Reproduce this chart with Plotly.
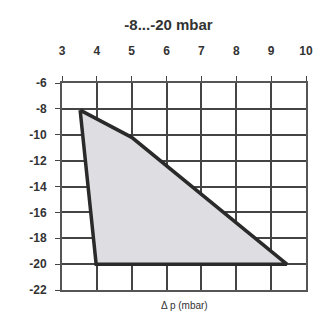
import plotly.graph_objects as go

# Data
poly_dp = [3.52, 5.0, 9.45, 3.98, 3.52]
poly_p = [-8.1, -10.2, -20.0, -20.0, -8.1]
x_ticks = [3, 4, 5, 6, 7, 8, 9, 10]
y_ticks = [-6, -8, -10, -12, -14, -16, -18, -20, -22]
x_labels = [str(v) for v in x_ticks]
y_labels = [str(v) for v in y_ticks]

fig = go.Figure()
fig.add_trace(go.Scatter(
    x=poly_dp, y=poly_p, mode="lines", fill="toself",
    fillcolor="rgba(222,222,226,1)",
    line=dict(color="#2a2a2a", width=3.5),
    hoverinfo="skip", showlegend=False,
))

axis_font = dict(family="Liberation Sans, Arial", size=12, color="#333333")
fig.update_layout(
    width=321, height=314,
    margin=dict(l=54, r=23, t=75, b=32),
    plot_bgcolor="white", paper_bgcolor="white",
    title=dict(text="<b>-8...-20 mbar</b>", x=0.5, xanchor="center", y=0.948, yanchor="middle",
               font=dict(family="Liberation Sans, Arial", size=15, color="#333333")),
    xaxis=dict(side="top", range=[3, 10], tickvals=x_ticks,
               ticktext=["<b>%s</b>" % t for t in x_labels],
               ticks="outside", ticklen=5,
               tickcolor="#444", showgrid=True, gridcolor="#444444", gridwidth=1.8,
               showline=True, linecolor="#555555", linewidth=1.8, mirror=True,
               zeroline=False, tickfont=axis_font, ticklabelstandoff=16),
    yaxis=dict(range=[-22, -6], tickvals=y_ticks,
               ticktext=["<b>%s</b>" % t for t in y_labels],
               ticks="outside", ticklen=5,
               tickcolor="#444", showgrid=True, gridcolor="#444444", gridwidth=1.8,
               showline=True, linecolor="#555555", linewidth=1.8, mirror=True,
               zeroline=False, tickfont=axis_font, ticklabelstandoff=6),
    annotations=[dict(text="Δ p (mbar)", x=0.5, xref="paper", y=-0.075, yref="paper",
                      yanchor="middle", showarrow=False,
                      font=dict(family="Liberation Sans, Arial", size=10, color="#333333"))],
)
fig.write_html("out.html")
